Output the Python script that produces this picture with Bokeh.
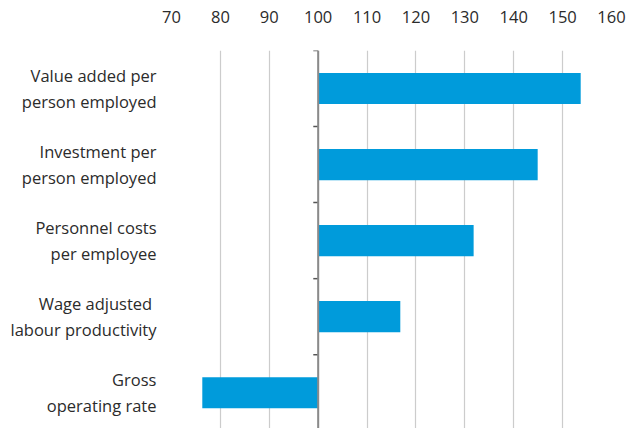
import numpy as np
from bokeh.plotting import figure
from bokeh.models import Range1d, FixedTicker, Span
from bokeh.embed import file_html
from bokeh.resources import INLINE

categories = [
    "Value added per\nperson employed",
    "Investment per\nperson employed",
    "Personnel costs\nper employee",
    "Wage adjusted \nlabour productivity",
    "Gross\noperating rate",
]
values = [153.7, 144.9, 131.8, 116.8, 76.3]
x_ticks = [70, 80, 90, 100, 110, 120, 130, 140, 150, 160]
base = 100

n = len(categories)
pos = list(range(1, n + 1))
bounds = [p_ - 0.5 for p_ in pos]

FONT = "Open Sans"
TXT = "#2b2b2b"

p = figure(
    width=628, height=428,
    output_backend="svg", toolbar_location=None,
    x_axis_location="above",
    x_range=Range1d(x_ticks[0], x_ticks[-1]),
    y_range=Range1d(n + 0.47, 0.5),
    min_border_left=171, min_border_right=17, min_border_top=50, min_border_bottom=0,
)
p.outline_line_color = None

p.hbar(y=pos, left=base, right=values, height=0.41, color="#009bdb", line_color=None)

p.add_layout(Span(location=base, dimension="height", line_color="#8a8a8a", line_width=2))
p.segment(x0=[base - 1] * len(bounds), x1=[base] * len(bounds), y0=bounds, y1=bounds,
          line_color="#555555", line_width=1.5)

xa = p.xaxis[0]
xa.ticker = FixedTicker(ticks=x_ticks)
xa.axis_line_color = None
xa.major_tick_line_color = None
xa.minor_tick_line_color = None
xa.major_label_text_font = FONT
xa.major_label_text_font_size = "16.5px"
xa.major_label_text_color = TXT
xa.major_label_standoff = 22

ya = p.yaxis[0]
ya.ticker = FixedTicker(ticks=pos)
ya.major_label_overrides = {pp: c for pp, c in zip(pos, categories)}
ya.axis_line_color = None
ya.major_tick_line_color = None
ya.minor_tick_line_color = None
ya.major_label_text_font = FONT
ya.major_label_text_font_size = "16.5px"
ya.major_label_text_color = TXT
ya.major_label_text_line_height = 1.13
ya.major_label_standoff = 9

p.xgrid.ticker = FixedTicker(ticks=x_ticks)
p.xgrid.grid_line_color = "#cccccc"
p.xgrid.grid_line_width = 1.2
p.ygrid.grid_line_color = None

open("out.html", "w").write(file_html(p, INLINE))
